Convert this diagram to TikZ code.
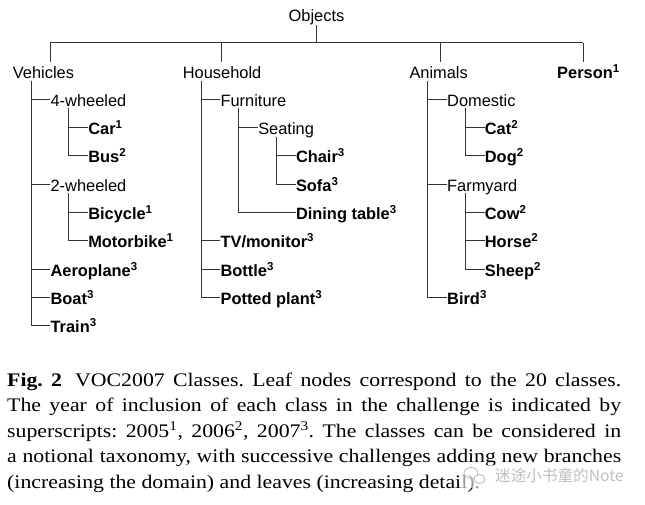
\documentclass[tikz,border=0pt]{standalone}
\usepackage{fontspec}
\usepackage{graphicx}
\setmainfont{Liberation Serif}
\newfontfamily\treefont{Liberation Sans}
\newfontfamily\cjkfont{Noto Sans CJK SC}
\usetikzlibrary{calc}
\newcommand\tbranch[2]{\draw[link] ($(#1.base west)+(18.3,2)$) |- (#2.west);}
\begin{document}
\begin{tikzpicture}[x=1pt,y=-1pt,
  tnode/.style={anchor=west, inner sep=0pt, text height=14pt, text depth=0pt,
    font=\treefont\fontsize{16.4}{19}\selectfont},
  leaf/.style={tnode, font=\treefont\fontsize{16.4}{19}\selectfont\bfseries},
  link/.style={line width=1pt, black!80}]
\fill[white] (0,0) rectangle (645,505);
\useasboundingbox (0,0) rectangle (645,505);

% top level
\node[tnode, anchor=base] (objects) at (316.5,21.7) {Objects};
\node[tnode] (vehicles)  at (12.7,72)  {Vehicles};
\node[tnode] (household) at (182.7,72) {Household};
\node[tnode] (animals)   at (409.3,72) {Animals};
\node[leaf]  (person)    at (557,72)   {Person\textsuperscript{1}};

\coordinate (dv) at (50,43);
\coordinate (dh) at (221,43);
\coordinate (da) at (440.3,43);
\coordinate (dp) at (583.3,43);
\draw[link] ($(objects.base)+(0,3.3)$) -- (objects.base |- dv);
\draw[link] (dv) -- (dp);
\foreach \n/\d in {vehicles/dv, household/dh, animals/da, person/dp}
  {\draw[link] (\d) -- ($(\n.north -| \d)+(0,-3)$);}

% Vehicles
\node[tnode] (fourw)  at (50.4,99.3)  {4-wheeled};
\node[leaf]  (car)    at (88.1,127.6) {Car\textsuperscript{1}};
\node[leaf]  (bus)    at (88.1,156.0) {Bus\textsuperscript{2}};
\node[tnode] (twow)   at (50.4,184.3) {2-wheeled};
\node[leaf]  (bicycle) at (88.1,212.6) {Bicycle\textsuperscript{1}};
\node[leaf]  (motorbike) at (88.1,240.9) {Motorbike\textsuperscript{1}};
\node[leaf]  (aeroplane) at (50.4,269.3) {Aeroplane\textsuperscript{3}};
\node[leaf]  (boat)   at (50.4,297.6) {Boat\textsuperscript{3}};
\node[leaf]  (train)  at (50.4,325.9) {Train\textsuperscript{3}};
\foreach \c in {fourw, twow, aeroplane, boat, train} {\tbranch{vehicles}{\c}}
\foreach \c in {car, bus} {\tbranch{fourw}{\c}}
\foreach \c in {bicycle, motorbike} {\tbranch{twow}{\c}}

% Household
\node[tnode] (furniture) at (220.4,99.3)  {Furniture};
\node[tnode] (seating)   at (258.1,127.6) {Seating};
\node[leaf]  (chair)     at (295.8,156.0) {Chair\textsuperscript{3}};
\node[leaf]  (sofa)      at (295.8,184.3) {Sofa\textsuperscript{3}};
\node[leaf]  (dining)    at (295.8,212.6) {Dining table\textsuperscript{3}};
\node[leaf]  (tv)        at (220.4,240.9) {TV/monitor\textsuperscript{3}};
\node[leaf]  (bottle)    at (220.4,269.3) {Bottle\textsuperscript{3}};
\node[leaf]  (potted)    at (220.4,297.6) {Potted plant\textsuperscript{3}};
\foreach \c in {furniture, tv, bottle, potted} {\tbranch{household}{\c}}
\foreach \c in {seating, dining} {\tbranch{furniture}{\c}}
\foreach \c in {chair, sofa} {\tbranch{seating}{\c}}

% Animals
\node[tnode] (domestic) at (447.0,99.3)  {Domestic};
\node[leaf]  (cat)      at (484.7,127.6) {Cat\textsuperscript{2}};
\node[leaf]  (dog)      at (484.7,156.0) {Dog\textsuperscript{2}};
\node[tnode] (farmyard) at (447.0,184.3) {Farmyard};
\node[leaf]  (cow)      at (484.7,212.6) {Cow\textsuperscript{2}};
\node[leaf]  (horse)    at (484.7,240.9) {Horse\textsuperscript{2}};
\node[leaf]  (sheep)    at (484.7,269.3) {Sheep\textsuperscript{2}};
\node[leaf]  (bird)     at (447.0,297.6) {Bird\textsuperscript{3}};
\foreach \c in {domestic, farmyard, bird} {\tbranch{animals}{\c}}
\foreach \c in {cat, dog} {\tbranch{domestic}{\c}}
\foreach \c in {cow, horse, sheep} {\tbranch{farmyard}{\c}}

% caption
\node[anchor=north west, inner sep=0pt] (caption) at (7,372.6) {\scalebox{1}[0.88]{\begin{minipage}{614pt}\fontsize{21.8}{29}\selectfont\frenchspacing
\textbf{Fig.~2}\hspace{0.6em}VOC2007 Classes. Leaf nodes correspond to the 20 classes.\linebreak
The year of inclusion of each class in the challenge is indicated by\linebreak
superscripts: 2005\textsuperscript{1}, 2006\textsuperscript{2}, 2007\textsuperscript{3}. The classes can be considered in\linebreak
a notional taxonomy, with successive challenges adding new branches\linebreak
(increasing the domain) and leaves (increasing detail).
\end{minipage}}};

% watermark
\fill[white, opacity=0.6] (462,465) rectangle (626,488);
\draw[gray!55, line width=0.8pt] (471,473) ellipse [x radius=7pt, y radius=5.5pt];
\draw[gray!55, line width=0.8pt, fill=white] (479.5,479) ellipse [x radius=5.5pt, y radius=4.5pt];
\node[anchor=west, inner sep=0pt, text=gray!50, font=\cjkfont\fontsize{15.6}{18}\selectfont] (mark) at (495,476) {迷途小书童的Note};
\end{tikzpicture}
\end{document}
